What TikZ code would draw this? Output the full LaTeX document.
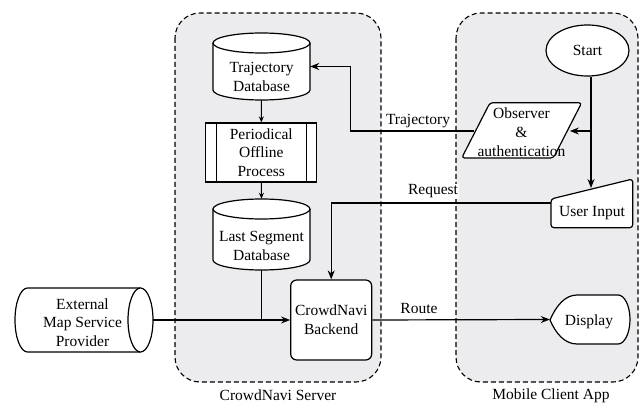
\documentclass[tikz,border=0pt]{standalone}
\usepackage{fontspec}
\setmainfont{Liberation Serif}
\usetikzlibrary{shapes.geometric,arrows.meta,calc}
\pgfdeclarelayer{panels}
\pgfdeclarelayer{shapes}
\pgfsetlayers{panels,shapes,main}
\definecolor{panelgray}{RGB}{236,236,238}

\begin{document}
\begin{tikzpicture}[x=1pt,y=-1pt,
  font=\fontsize{15.5}{18.7}\selectfont,
  hold/.style={inner sep=0pt},
  txt/.style={align=center, inner sep=0pt},
  edgelabel/.style={fill=white, inner sep=1pt},
  line/.style={line width=1.2pt},
  arr/.style={line width=1.2pt, -{Stealth[length=9pt,width=7pt]}},
  arrs/.style={line width=1pt, -{Stealth[length=6pt,width=5pt]}},
  outline/.style={draw, fill=white, line width=1.2pt},
  panel/.style={draw, fill=panelgray, dash pattern=on 5pt off 3pt,
                line width=1.1pt, rounded corners=25pt}]
\useasboundingbox (0,0) rectangle (641,404);

% ---------- the two dashed containers ----------
\begin{pgfonlayer}{panels}
  \draw[panel] (175,13) rectangle (381,382);
  \draw[panel] (456,13) rectangle (638,382);
\end{pgfonlayer}

% ---------- shape outlines drawn by hand ----------
\begin{pgfonlayer}{shapes}
  % Trajectory Database (vertical cylinder)
  \path[outline] (213,43) -- (213,90)
     arc[start angle=180,end angle=0,x radius=48.5,y radius=10] -- (310,43);
  \path[outline] (261.5,43) ellipse[x radius=48.5,y radius=10];
  % Last Segment Database (vertical cylinder)
  \path[outline] (213,209) -- (213,260)
     arc[start angle=180,end angle=0,x radius=48.5,y radius=10] -- (310,209);
  \path[outline] (261.5,209) ellipse[x radius=48.5,y radius=10];
  % External Map Service Provider (horizontal cylinder)
  \path[outline] (140.5,288) -- (27.5,288)
     arc[start angle=270,end angle=90,x radius=12.5,y radius=32] -- (140.5,352);
  \path[outline] (140.5,320) ellipse[x radius=12.5,y radius=32];
  % Observer & authentication (parallelogram)
  \path[outline, rounded corners=3pt]
     (461.7,158) -- (490,102.7) -- (581.7,102.7) -- (553.4,158) -- cycle;
  % User Input (manual input)
  \path[outline, rounded corners=3pt]
     (551,199) -- (632.7,179) -- (632.7,227.7) -- (551,227.7) -- cycle;
  % Display
  \path[outline] (550,320) .. controls (556,306) and (565,295) .. (577,295)
     -- (618,295) arc[start angle=-90,end angle=90,x radius=12,y radius=24.5]
     -- (577,344) .. controls (565,344) and (556,334) .. (550,320);
\end{pgfonlayer}

% ---------- nodes ----------
\node[hold, minimum width=97pt, minimum height=67pt] (tdb) at (261.5,66.5) {};
\node[txt] (tdbtext) at (261.5,77) {Trajectory\\Database};

\node[outline, align=center, inner sep=0pt, minimum width=111pt, minimum height=59pt]
  (pop) at (261.3,152.5) {Periodical\\Offline\\Process};
\draw[line] ([xshift=11.3pt]pop.north west) -- ([xshift=11.3pt]pop.south west);
\draw[line] ([xshift=-11.3pt]pop.north east) -- ([xshift=-11.3pt]pop.south east);

\node[hold, minimum width=97pt, minimum height=71pt] (lsd) at (261.5,234.5) {};
\node[txt] (lsdtext) at (261.5,246) {Last Segment\\Database};

\node[outline, rounded corners=6pt, align=center, inner sep=0pt,
      minimum width=81pt, minimum height=80pt] (back) at (331.2,320) {CrowdNavi\\Backend};

\node[hold, minimum width=138pt, minimum height=64pt] (ext) at (84,320) {};
\node[txt] (exttext) at (82.5,322.5) {External\\Map Service\\Provider};

\node[outline, ellipse, inner sep=0pt, minimum width=83pt, minimum height=51pt]
  (start) at (587.5,50.5) {Start};

\node[hold, minimum width=96pt, minimum height=55pt] (obs) at (521.7,131) {};
\node[txt] (obstext) at (521.5,132) {Observer\\\&\\authentication};

\node[hold, minimum width=82pt, minimum height=49pt] (ui) at (591.8,203.4) {};
\node[txt] (uitext) at (592,213) {User Input};

\node[hold, minimum width=80pt, minimum height=49pt] (disp) at (590,319.5) {};
\node[txt] (disptext) at (589,321.5) {Display};

% ---------- connectors ----------
\draw[arrs] (tdb.south) -- (pop.north);
\draw[arrs] (pop.south) -- (lsd.north);
\draw[arr] (ext.east) -- (back.west);
\draw[line] (lsd.south) -- (lsd.south |- back.west);

\coordinate (uiin) at (591,188);
\draw[arr] (uiin |- start.south) -- (uiin);
\draw[arr] (uiin |- obs.east) -- (obs.east);

\coordinate (tjbend) at (350.7,131);
\draw[arr] (obs.west) -- (tjbend) |- (tdb.east);
\node[edgelabel] (tjlabel) at (418,121.5) {Trajectory};

\coordinate (uireq) at (551,203);
\draw[arr] (uireq) -| (back.north);
\node[edgelabel] (reqlabel) at (433,191.5) {Request};

\draw[arr] (back.east) -- (disp.west);
\node[edgelabel] (routelabel) at (419,309) {Route};

% ---------- container captions ----------
\node (srvlabel) at (278,395) {CrowdNavi Server};
\node (applabel) at (551,396) {Mobile Client App};
\end{tikzpicture}
\end{document}
